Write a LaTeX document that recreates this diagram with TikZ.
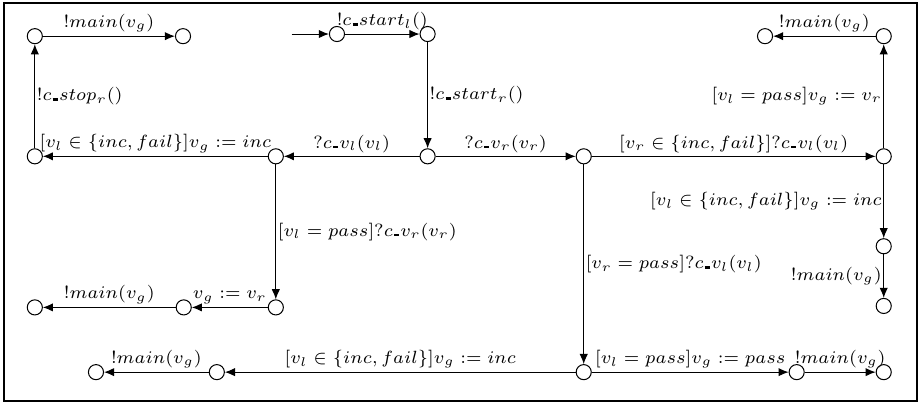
\documentclass[tikz,border=0pt]{standalone}
\usepackage{amsmath}
\usepackage{amssymb}
\usepackage{tikz}
\usetikzlibrary{arrows.meta, positioning}

\newcommand{\usc}{\mkern1mu\rule{0.28em}{0.14em}\mkern1mu}

\begin{document}
\begin{tikzpicture}[
  node distance=1.2cm, on grid,
  loc/.style={circle, draw, thin, minimum size=0.21cm, inner sep=0pt},
  arr/.style={-{Latex[length=4pt, width=3.3pt]}, thin},
  lbl/.style={font=\fontsize{7.3}{9}\selectfont, inner sep=1.3pt},
  vlbl/.style={font=\fontsize{7.3}{9}\selectfont, inner sep=0.6pt},
  frame/.style={draw, line width=1pt},
]

% Frame and page size
\useasboundingbox (-4.684,0.473) rectangle (8.132,-5.143);
\draw[frame] (-4.629,0.431) rectangle (8.062,-5.101);

% Start and centre column
\node[loc] (s0) {};
\coordinate[left=0.63cm of s0] (init);
\node[loc, right=1.26cm of s0] (s1) {};
\node[loc, below=1.70cm of s1] (s2) {};

% Left branch
\node[loc, left=2.11cm of s2] (l1) {};
\node[loc, left=3.35cm of l1] (l0) {};
\node[loc, above=1.67cm of l0] (a1) {};
\node[loc, right=2.06cm of a1] (a2) {};
\node[loc, below=2.10cm of l1] (m0) {};
\node[loc, left=1.28cm of m0] (m1) {};
\node[loc, left=2.07cm of m1] (m2) {};

% Right branch
\node[loc, right=2.17cm of s2] (r1) {};
\node[loc, right=4.17cm of r1] (r2) {};
\node[loc, above=1.67cm of r2] (r3) {};
\node[loc, left=1.65cm of r3] (r4) {};
\node[loc, below=1.25cm of r2] (r5) {};
\node[loc, below=0.83cm of r5] (r6) {};

% Bottom row
\node[loc, below=3.00cm of r1] (b0) {};
\node[loc, right=2.96cm of b0] (b1) {};
\node[loc, right=1.21cm of b1] (b2) {};
\node[loc, left=5.10cm of b0] (b3) {};
\node[loc, left=1.68cm of b3] (b4) {};

% Arrows: start
\draw[arr] (init) -- (s0);
\draw[arr] (s0) -- node[above, lbl]{$!c\usc start_l()$} (s1);
\draw[arr] (s1) -- node[right, vlbl]{$!c\usc start_r()$} (s2);
\draw[arr] (s2) -- node[above, lbl]{$?c\usc v_l(v_l)$} (l1);
\draw[arr] (s2) -- node[above, lbl]{$?c\usc v_r(v_r)$} (r1);

% Arrows: left branch
\draw[arr] (l1) -- node[above, lbl]{$[v_l \in \{inc, fail\}]v_g := inc$} (l0);
\draw[arr] (l0) -- node[right, vlbl]{$!c\usc stop_r()$} (a1);
\draw[arr] (a1) -- node[above, lbl]{$!main(v_g)$} (a2);
\draw[arr] (l1) -- node[right, vlbl]{$[v_l = pass]?c\usc v_r(v_r)$} (m0);
\draw[arr] (m0) -- node[above, lbl]{$v_g := v_r$} (m1);
\draw[arr] (m1) -- node[above, lbl]{$!main(v_g)$} (m2);

% Arrows: right branch
\draw[arr] (r1) -- node[above, lbl]{$[v_r \in \{inc, fail\}]?c\usc v_l(v_l)$} (r2);
\draw[arr] (r2) -- node[left, vlbl]{$[v_l = pass]v_g := v_r$} (r3);
\draw[arr] (r3) -- node[above, lbl]{$!main(v_g)$} (r4);
\draw[arr] (r2) -- node[left, vlbl]{$[v_l \in \{inc, fail\}]v_g := inc$} (r5);
\draw[arr] (r5) -- node[left, vlbl]{$!main(v_g)$} (r6);

% Arrows: bottom row
\draw[arr] (r1) -- node[right, vlbl]{$[v_r = pass]?c\usc v_l(v_l)$} (b0);
\draw[arr] (b0) -- node[above, lbl]{$[v_l = pass]v_g := pass$} (b1);
\draw[arr] (b1) -- node[above, lbl]{$!main(v_g)$} (b2);
\draw[arr] (b0) -- node[above, lbl]{$[v_l \in \{inc, fail\}]v_g := inc$} (b3);
\draw[arr] (b3) -- node[above, lbl]{$!main(v_g)$} (b4);

\end{tikzpicture}
\end{document}
